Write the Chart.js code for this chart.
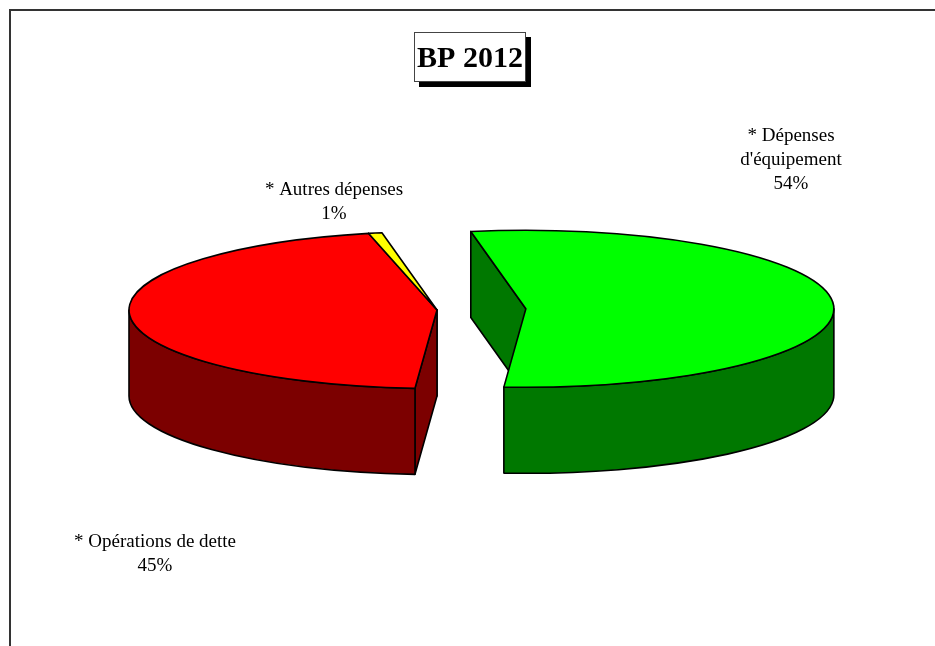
<!DOCTYPE html>
<html>
<head>
<meta charset="utf-8">
<script src="https://cdn.jsdelivr.net/npm/chart.js"></script>
<style>
    html, body { margin: 0; padding: 0; background: #fff; overflow: hidden; }
    #wrap { position: relative; width: 935px; height: 646px; }
    #frame {
        position: absolute; left: 9px; top: 9px; width: 1000px; height: 1000px;
        border-top: 2px solid #333; border-left: 2px solid #333;
    }
</style>
</head>
<body>
<div id="wrap">
    <div id="frame"></div>
    <canvas id="grafico"></canvas>
</div>
<script>
// données du graphique
const categories = ["* Dépenses d'équipement", "* Opérations de dette", "* Autres dépenses"];
const labelLines = [["* Dépenses", "d'équipement"], ["* Opérations de dette"], ["* Autres dépenses"]];
const values = [54, 45.3, 0.7];
const chartTitle = "BP 2012";

// styles
const topColors = ["#00FF00", "#FF0000", "#FFFF00"];
const sideColors = ["#007800", "#7C0000", "#7C7C00"];
const explode = [89, 0, 0];
const labelAnchors = [[791, 141], [155, 547], [334, 195]];

const squash = 0.255;
const depth = 86;

function ellPoint(s, t) {
    return [s.cx + s.rx * Math.cos(t), s.cy + s.ry * Math.sin(t)];
}

const pie3d = {
    id: "pie3d",
    beforeDatasetsDraw(chart) {
        const ctx = chart.ctx;
        const arcs = chart.getDatasetMeta(0).data;
        const slices = arcs.map((arc, i) => {
            const p = arc.getProps(["x", "y", "startAngle", "endAngle", "outerRadius"], true);
            const mid = (p.startAngle + p.endAngle) / 2;
            const off = arc.options.offset || 0;
            return {
                i: i,
                cx: p.x + Math.cos(mid) * off,
                cy: p.y + Math.sin(mid) * off * squash,
                rx: p.outerRadius,
                ry: p.outerRadius * squash,
                a: p.startAngle,
                b: p.endAngle,
            };
        });

        ctx.save();
        ctx.lineWidth = 1.6;
        ctx.strokeStyle = "#000";
        ctx.lineJoin = "round";

        // parois radiales visibles, de l'arrière vers l'avant
        const walls = [];
        slices.forEach((s) => {
            if (Math.cos(s.a) < 0) walls.push({ s: s, t: s.a });
            if (Math.cos(s.b) > 0) walls.push({ s: s, t: s.b });
        });
        walls.forEach((w) => {
            w.depthKey = (w.s.cy + ellPoint(w.s, w.t)[1]) / 2;
        });
        walls.sort((p, q) => p.depthKey - q.depthKey);
        walls.forEach((w) => {
            const s = w.s;
            const [px, py] = ellPoint(s, w.t);
            ctx.beginPath();
            ctx.moveTo(s.cx, s.cy);
            ctx.lineTo(px, py);
            ctx.lineTo(px, py + depth);
            ctx.lineTo(s.cx, s.cy + depth);
            ctx.closePath();
            ctx.fillStyle = sideColors[s.i];
            ctx.fill();
            ctx.stroke();
        });

        // côtés extérieurs (moitié avant)
        slices.forEach((s) => {
            for (let k = -1; k <= 2; k++) {
                const lo = Math.max(s.a, 2 * Math.PI * k);
                const hi = Math.min(s.b, 2 * Math.PI * k + Math.PI);
                if (hi - lo <= 0.0001) continue;
                ctx.beginPath();
                ctx.ellipse(s.cx, s.cy, s.rx, s.ry, 0, lo, hi);
                ctx.ellipse(s.cx, s.cy + depth, s.rx, s.ry, 0, hi, lo, true);
                ctx.closePath();
                ctx.fillStyle = sideColors[s.i];
                ctx.fill();
                ctx.stroke();
            }
        });

        // dessus
        slices.forEach((s) => {
            ctx.beginPath();
            ctx.moveTo(s.cx, s.cy);
            ctx.ellipse(s.cx, s.cy, s.rx, s.ry, 0, s.a, s.b);
            ctx.closePath();
            ctx.fillStyle = topColors[s.i];
            ctx.fill();
            ctx.stroke();
        });

        ctx.restore();
        return false;
    },
    afterDraw(chart) {
        const ctx = chart.ctx;
        ctx.save();

        // titre encadré avec ombre
        ctx.fillStyle = "#000";
        ctx.fillRect(419, 37, 112, 50);
        ctx.fillStyle = "#fff";
        ctx.fillRect(414, 32, 112, 50);
        ctx.strokeStyle = "#444";
        ctx.lineWidth = 1;
        ctx.strokeRect(414.5, 32.5, 111, 49);
        ctx.fillStyle = "#000";
        ctx.font = "bold 30px 'Liberation Serif', 'Times New Roman', serif";
        ctx.textAlign = "center";
        ctx.textBaseline = "alphabetic";
        ctx.fillText(chartTitle, 470, 67);

        // étiquettes
        const total = values.reduce((a, b) => a + b, 0);
        ctx.font = "19px 'Liberation Serif', 'Times New Roman', serif";
        labelLines.forEach((lines, i) => {
            const [x, y] = labelAnchors[i];
            const all = lines.concat([Math.round((values[i] / total) * 100) + "%"]);
            all.forEach((txt, j) => {
                ctx.fillText(txt, x, y + j * 24);
            });
        });

        ctx.restore();
    },
};

new Chart(document.getElementById("grafico"), {
    type: "pie",
    data: {
        labels: categories,
        datasets: [{
            data: values,
            backgroundColor: topColors,
            offset: explode,
            borderWidth: 0,
        }],
    },
    options: {
        responsive: true,
        maintainAspectRatio: false,
        animation: false,
        rotation: -10.3,
        radius: 308,
        layout: { padding: { left: 0, right: 61, top: 0, bottom: 26 } },
        plugins: {
            legend: { display: false },
            tooltip: { enabled: false },
            title: { display: false },
        },
    },
    plugins: [pie3d],
});
</script>
</body>
</html>
